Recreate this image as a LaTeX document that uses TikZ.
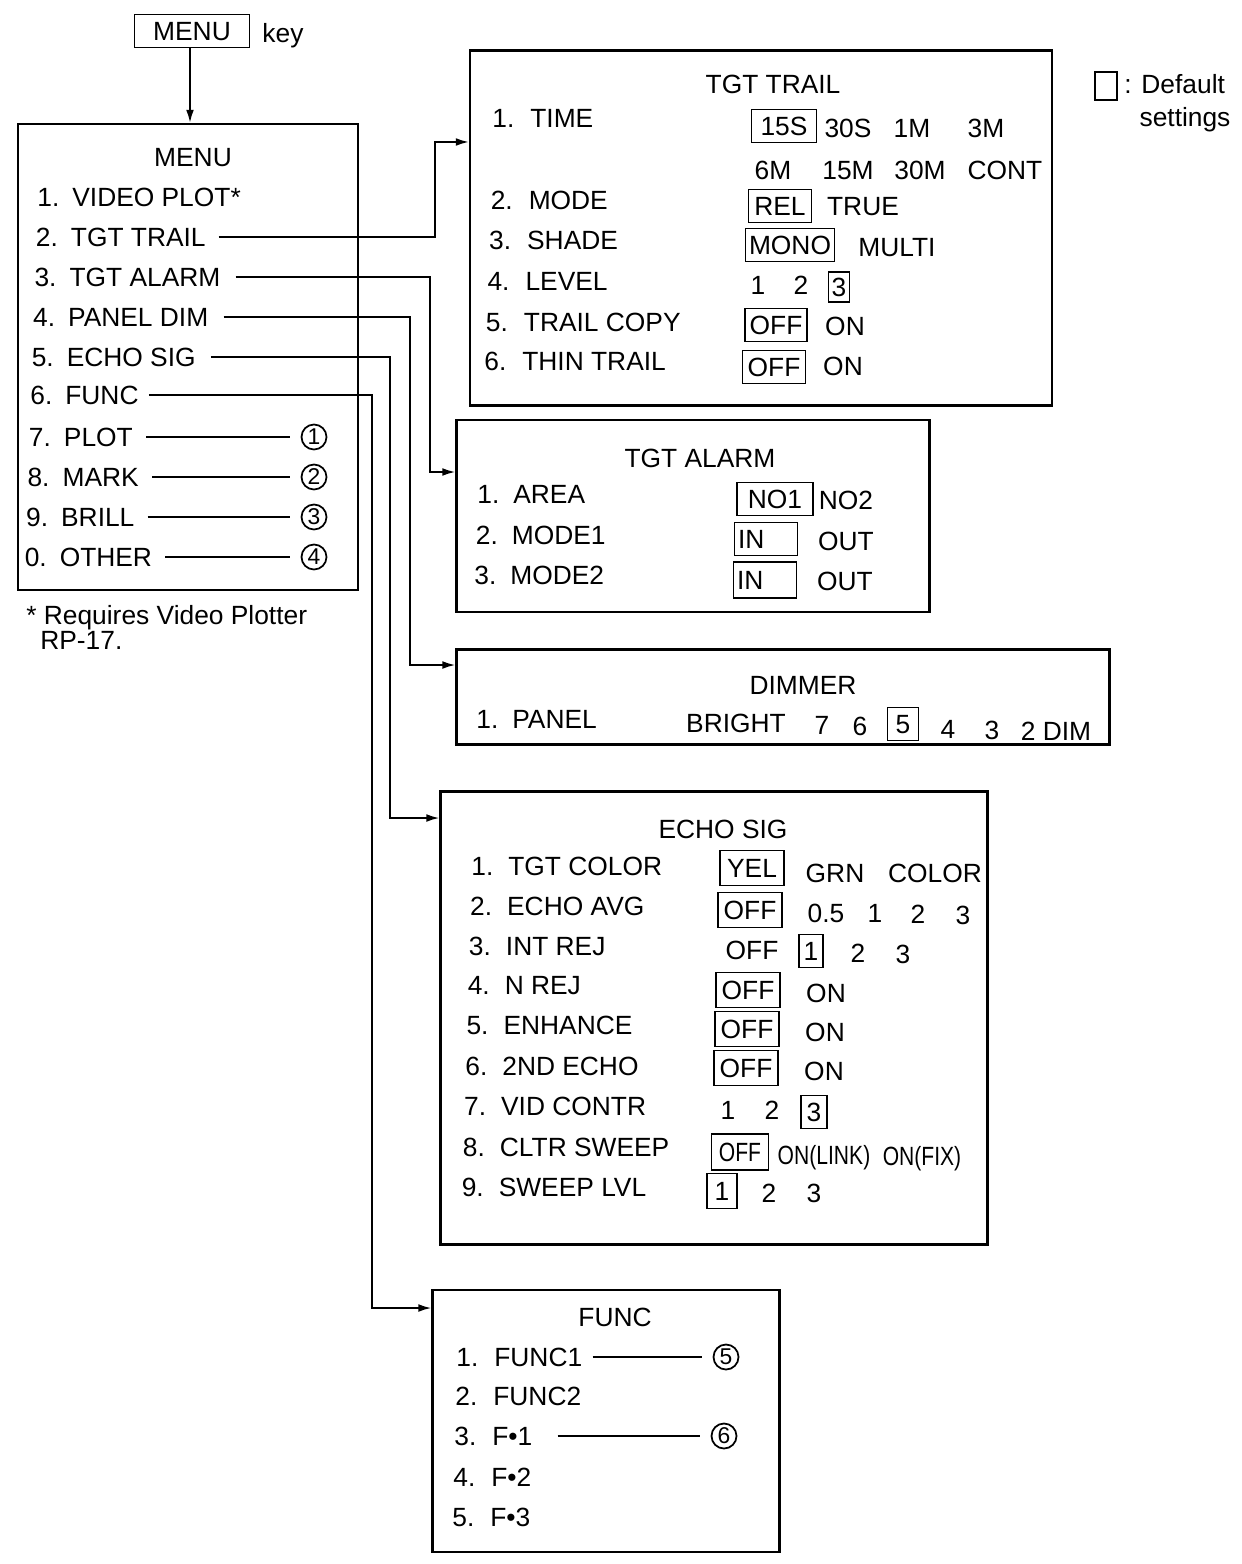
\documentclass[tikz,border=0pt]{standalone}
\usepackage{fontspec}
\setmainfont{Liberation Sans}
\usetikzlibrary{positioning,calc,arrows.meta}
\def\pxu{0.02cm}

\begin{document}
\begin{tikzpicture}[x=0.02cm, y=-0.02cm,
  font=\fontsize{15}{18}\selectfont,
  panel/.style={draw, line width=1.2pt, inner sep=0pt},
  txt/.style ={inner sep=0pt, text height=10.7pt, text depth=0pt},
  item/.style={txt, anchor=west},
  dflt/.style={txt, draw, line width=1.1pt, minimum height=33*\pxu, inner xsep=2pt},
  circ/.style={circle, draw, line width=1pt, minimum size=25*\pxu, inner sep=0pt, font=\fontsize{13}{15}\selectfont},
  conn/.style={line width=1.1pt},
  arr/.style ={conn, -{Latex[length=7.5pt,width=4.5pt]}},
]
\useasboundingbox (0,0) rectangle (1241,1564);
% key and main menu
\node[dflt, minimum width=115*\pxu] (key) at (192,31) {MENU};
\node[txt] (keyword) at (283,33) {key};
\node[panel, minimum width=340*\pxu, minimum height=466*\pxu] (menubox) at (188,357) {};
\draw[arr] (key.south -| 190,0) -- (menubox.north -| 190,0);
\node[txt] (menutitle) at (193,157) {MENU};
\foreach \i/\t/\y [count=\k] in {1/VIDEO PLOT*/197, 2/TGT TRAIL/237, 3/TGT ALARM/277,
    4/PANEL DIM/317, 5/ECHO SIG/357, 6/FUNC/395, 7/PLOT/437, 8/MARK/477,
    9/BRILL/517, 0/OTHER/557} {
  \pgfmathsetmacro{\xn}{37-1.4*(\k-1)}
  \node[item] (mn\i) at (\xn,\y) {\i.};
  \node[item] (m\i) at (\xn+35,\y) {\t};
}
\foreach \i/\c/\y in {7/1/437, 8/2/477, 9/3/517, 0/4/557} {
  \node[circ] (c\c) at (314,\y) {\c};
  \draw[conn, shorten <=0.26cm, shorten >=0.22cm] (m\i.east) -- (c\c.west);
}
\node[item] (note1) at (26,615) {* Requires Video Plotter};
\node[item] (note2) at (40,640) {RP-17.};

% legend
\node[draw, line width=1.1pt, minimum width=22*\pxu, minimum height=28*\pxu] (legbox) at (1106,86) {};
\node[item] (legtext) at (1124,84) {: Default};
\node[txt] (legtext2) at (1185,117) {settings};

% sub-menu panels
\node[panel, minimum width=582*\pxu, minimum height=355*\pxu] (ttrail) at (761,228) {};
\node[panel, minimum width=473*\pxu, minimum height=192*\pxu] (talarm) at (693,516) {};
\node[panel, minimum width=653*\pxu, minimum height=95*\pxu]  (dimmer) at (783,697) {};
\node[panel, minimum width=547*\pxu, minimum height=453*\pxu] (echo)   at (714,1018) {};
\node[panel, minimum width=347*\pxu, minimum height=262*\pxu] (func)   at (606,1421) {};

% connectors from the menu
\coordinate (bTrail) at (435,142);
\coordinate (bAlarm) at (430,472);
\coordinate (bDim)   at (410,665);
\coordinate (bEcho)  at (390,818);
\coordinate (bFunc)  at (372,1308);
\draw[arr, shorten <=0.25cm] (m2.east) -| (bTrail) -- (bTrail -| ttrail.west);
\draw[arr, shorten <=0.3cm]  (m3.east) -| (bAlarm) -- (bAlarm -| talarm.west);
\draw[arr, shorten <=0.3cm]  (m4.east) -| (bDim)   -- (bDim -| dimmer.west);
\draw[arr, shorten <=0.3cm]  (m5.east) -| (bEcho)  -- (bEcho -| echo.west);
\draw[arr, shorten <=0.2cm]  (m6.east) -| (bFunc)  -- (bFunc -| func.west);

% TGT TRAIL
\node[txt] (tttl) at (773,84) {TGT TRAIL};
\foreach \i/\t/\y in {1/TIME/118, 2/MODE/200, 3/SHADE/240, 4/LEVEL/281, 5/TRAIL COPY/322, 6/THIN TRAIL/361} {
  \pgfmathsetmacro{\xn}{492-1.6*(\i-1)}
  \node[item] (tn\i) at (\xn,\y) {\i.};
  \node[item] (tt\i) at (\xn+38,\y) {\t};
}
\node[dflt, minimum width=65*\pxu] (t15s) at (784,126) {15S};
\foreach \x/\t in {848/30S, 912/1M, 986/3M} \node[txt] (ta\t) at (\x,128) {\t};
\foreach \x/\t in {773/6M, 848/15M, 920/30M, 1005/CONT} \node[txt] (tb\t) at (\x,170) {\t};
\node[dflt, minimum width=63*\pxu] (trel) at (780,206) {REL};
\node[txt] (ttrue) at (863,206) {TRUE};
\node[dflt, minimum width=89*\pxu] (tmono) at (790,245) {MONO};
\node[txt] (tmulti) at (897,247) {MULTI};
\node[txt] (tlv1) at (758,285) {1};
\node[txt] (tlv2) at (801,285) {2};
\node[dflt, minimum width=21*\pxu, minimum height=30*\pxu, inner xsep=1pt] (tlv3) at (839,287) {3};
\node[dflt, minimum width=62*\pxu] (tcoff) at (776,325) {OFF};
\node[txt] (tcon) at (845,326) {ON};
\node[dflt, minimum width=63*\pxu] (thoff) at (774,367) {OFF};
\node[txt] (thon) at (843,366) {ON};

% TGT ALARM
\node[txt] (attl) at (700,458) {TGT ALARM};
\foreach \i/\t/\y in {1/AREA/494, 2/MODE1/535, 3/MODE2/575} {
  \pgfmathsetmacro{\xn}{477-1.5*(\i-1)}
  \node[item] (an\i) at (\xn,\y) {\i.};
  \node[item] (at\i) at (\xn+36,\y) {\t};
}
\node[dflt, minimum width=76*\pxu] (ano1) at (775,499) {NO1};
\node[txt] (ano2) at (846,500) {NO2};
\node[dflt, text width=56*\pxu, align=left] (ain1) at (766,539) {IN};
\node[txt] (aout1) at (846,541) {OUT};
\node[dflt, text width=56*\pxu, align=left, minimum height=36*\pxu] (ain2) at (765,580) {IN};
\node[txt] (aout2) at (845,581) {OUT};

% DIMMER
\node[txt] (dttl) at (803,685) {DIMMER};
\node[item] (dn1) at (476,719) {1.};
\node[item] (dt1) at (512,719) {PANEL};
\node[txt] (dbright) at (736,723) {BRIGHT};
\node[txt] (d7) at (822,725) {7};
\node[txt] (d6) at (860,726) {6};
\node[dflt, minimum width=31*\pxu, inner xsep=1pt] (d5) at (903,724) {5};
\node[txt] (d4) at (948,729) {4};
\node[txt] (d3) at (992,730) {3};
\node[txt] (d2) at (1056,731) {2 DIM};

% ECHO SIG
\node[txt] (ettl) at (723,829) {ECHO SIG};
\foreach \i/\t/\y in {1/TGT COLOR/866, 2/ECHO AVG/906, 3/INT REJ/946, 4/N REJ/985, 5/ENHANCE/1025,
    6/2ND ECHO/1066, 7/VID CONTR/1106, 8/CLTR SWEEP/1147, 9/SWEEP LVL/1187} {
  \pgfmathsetmacro{\xn}{471-1.2*(\i-1)}
  \node[item] (en\i) at (\xn,\y) {\i.};
  \node[item] (et\i) at (\xn+37,\y) {\t};
}
\node[dflt, minimum width=64*\pxu, minimum height=35*\pxu] (eyel) at (752,868) {YEL};
\node[txt] (egrn) at (835,873) {GRN};
\node[txt] (ecolor) at (935,873) {COLOR};
\node[dflt, minimum width=64*\pxu, minimum height=35*\pxu] (eaoff) at (750,910) {OFF};
\foreach \x/\t/\y in {826/0.5/913, 875/1/913, 918/2/914, 963/3/915} \node[txt] (ea\x) at (\x,\y) {\t};
\node[txt] (eioff) at (752,950) {OFF};
\node[dflt, minimum width=24*\pxu, inner xsep=1pt] (ei1) at (811,951) {1};
\node[txt] (ei2) at (858,953) {2};
\node[txt] (ei3) at (903,954) {3};
\foreach \k/\x/\y in {4/748/990, 5/747/1029, 6/746/1068} {
  \node[dflt, minimum width=64*\pxu, minimum height=35*\pxu] (eoff\k) at (\x,\y) {OFF};
  \node[txt] (eon\k) at (\x+78,\y+3) {ON};
}
\node[txt] (ev1) at (728,1110) {1};
\node[txt] (ev2) at (772,1110) {2};
\node[dflt, minimum width=26*\pxu, inner xsep=1pt] (ev3) at (814,1112) {3};
\node[dflt, minimum width=57*\pxu, minimum height=36*\pxu, inner xsep=1pt] (ecoff) at (740,1152) {\scalebox{0.8}[1]{OFF}};
\node[txt] (eclink) at (824,1155) {\scalebox{0.8}[1]{ON(LINK)}};
\node[txt] (ecfix) at (922,1156) {\scalebox{0.8}[1]{ON(FIX)}};
\node[dflt, minimum width=30*\pxu, minimum height=35*\pxu, inner xsep=1pt] (es1) at (722,1191) {1};
\node[txt] (es2) at (769,1193) {2};
\node[txt] (es3) at (814,1193) {3};

% FUNC
\node[txt] (fttl) at (615,1317) {FUNC};
\foreach \i/\t/\y in {1/FUNC1/1357, 2/FUNC2/1396, 3/F•1/1436, 4/F•2/1477, 5/F•3/1517} {
  \pgfmathsetmacro{\xn}{456-1*(\i-1)}
  \node[item] (fn\i) at (\xn,\y) {\i.};
  \node[item] (ft\i) at (\xn+38,\y) {\t};
}
\node[circ] (c5) at (726,1357) {5};
\node[circ] (c6) at (724,1436) {6};
\draw[conn, shorten <=0.2cm, shorten >=0.22cm] (ft1.east) -- (c5.west);
\draw[conn, shorten <=0.5cm, shorten >=0.22cm] (ft3.east) -- (c6.west);
\end{tikzpicture}
\end{document}
